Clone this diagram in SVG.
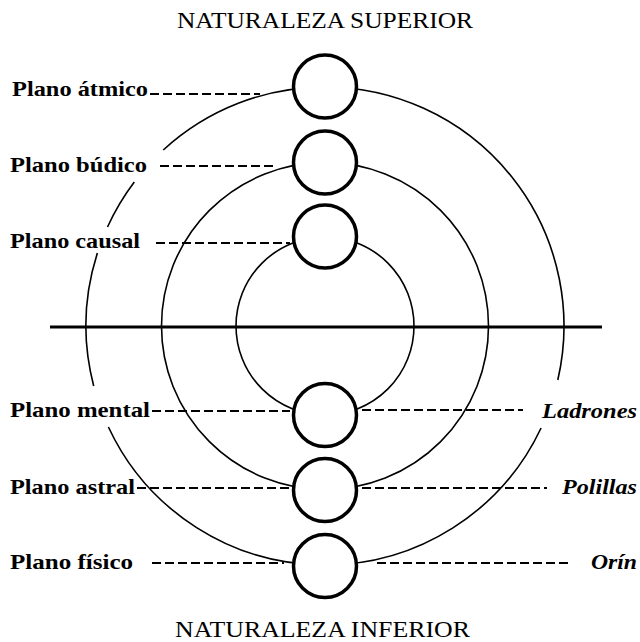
<svg xmlns="http://www.w3.org/2000/svg" width="640" height="642" viewBox="0 0 640 642">
<style>
.head{font-family:"Liberation Serif","Times New Roman",serif;font-size:23px;fill:#000}
.lbl{font-family:"Liberation Serif","Times New Roman",serif;font-size:21px;font-weight:bold;fill:#000}
.it{font-family:"Liberation Serif","Times New Roman",serif;font-size:21px;font-weight:bold;font-style:italic;fill:#000}
.arc{fill:none;stroke:#000;stroke-width:1.6}
.dash{fill:none;stroke:#000;stroke-width:1.8;stroke-dasharray:9 4}
.node{fill:#fff;stroke:#000;stroke-width:3.5}
.axis{stroke:#000;stroke-width:3}
</style>
<rect width="640" height="642" fill="#fff"/>
<text class="head" x="177" y="28" textLength="296" lengthAdjust="spacingAndGlyphs">NATURALEZA SUPERIOR</text>
<text class="head" x="175" y="637" textLength="295" lengthAdjust="spacingAndGlyphs">NATURALEZA INFERIOR</text>
<g id="spheres">
<path class="arc" d="M325 87 A239 239 0 0 0 163.3 150 M134.3 182 A239 239 0 0 0 107.5 227 M97.4 253 A239 239 0 0 0 93.7 386 M108.4 427 A239 239 0 0 0 325 565 M325 87 A239 239 0 0 1 557.8 380 M541.1 428 A239 239 0 0 1 325 565"/>
<circle class="arc" cx="325" cy="326" r="163.5"/>
<circle class="arc" cx="325" cy="326" r="89"/>
</g>
<line class="axis" x1="50" y1="327" x2="602" y2="327"/>
<g id="connectors">
<line class="dash" x1="150" y1="94" x2="260" y2="94"/>
<line class="dash" x1="160" y1="166" x2="277" y2="166"/>
<line class="dash" x1="156" y1="243" x2="290" y2="243"/>
<line class="dash" x1="152" y1="411" x2="290" y2="411"/>
<line class="dash" x1="137" y1="488" x2="290" y2="488"/>
<line class="dash" x1="152" y1="563" x2="284" y2="563"/>
<line class="dash" x1="362" y1="410" x2="523" y2="410"/>
<line class="dash" x1="362" y1="488" x2="547" y2="488"/>
<line class="dash" x1="377" y1="563" x2="570" y2="563"/>
</g>
<g id="atmico"><circle class="node" cx="325" cy="86.5" r="31.5"/><text class="lbl" x="12" y="96" textLength="136" lengthAdjust="spacingAndGlyphs">Plano átmico</text></g>
<g id="budico"><circle class="node" cx="325" cy="162.5" r="31.5"/><text class="lbl" x="10" y="172" textLength="137" lengthAdjust="spacingAndGlyphs">Plano búdico</text></g>
<g id="causal"><circle class="node" cx="325" cy="236.5" r="31.5"/><text class="lbl" x="10" y="248" textLength="130" lengthAdjust="spacingAndGlyphs">Plano causal</text></g>
<g id="mental"><circle class="node" cx="325" cy="415" r="31.5"/><text class="lbl" x="10" y="417" textLength="140" lengthAdjust="spacingAndGlyphs">Plano mental</text></g>
<g id="astral"><circle class="node" cx="325" cy="490" r="31.5"/><text class="lbl" x="10" y="494" textLength="125" lengthAdjust="spacingAndGlyphs">Plano astral</text></g>
<g id="fisico"><circle class="node" cx="325" cy="566" r="31.5"/><text class="lbl" x="10" y="569" textLength="123" lengthAdjust="spacingAndGlyphs">Plano físico</text></g>
<g id="ladrones"><text class="it" x="637" y="418" text-anchor="end" textLength="95" lengthAdjust="spacingAndGlyphs">Ladrones</text></g>
<g id="polillas"><text class="it" x="637" y="494" text-anchor="end" textLength="75" lengthAdjust="spacingAndGlyphs">Polillas</text></g>
<g id="orin"><text class="it" x="637" y="569" text-anchor="end" textLength="46" lengthAdjust="spacingAndGlyphs">Orín</text></g>
</svg>
